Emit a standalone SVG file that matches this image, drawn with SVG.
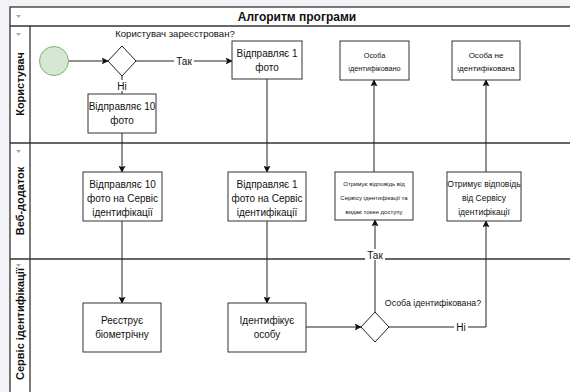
<svg xmlns="http://www.w3.org/2000/svg" width="570" height="392" viewBox="0 0 570 392">
<style>
.lane{fill:none;stroke:#333;stroke-width:1.3}
.box rect{fill:#fff;stroke:#333;stroke-width:1}
.t{font-family:"Liberation Sans",Arial,sans-serif;fill:#111;text-anchor:middle}
.b{font-weight:bold;font-size:12px}
.lb{font-weight:bold;font-size:11px}
.s11{font-size:10px}
.s8{font-size:8px}
.s6{font-size:6px}
.c{fill:none;stroke:#222;stroke-width:1}
.lbl{fill:#fff}
.tri{fill:#aaa}
</style>
<defs>
<marker id="a" viewBox="0 0 10 10" refX="9" refY="5" markerWidth="7" markerHeight="7" orient="auto" markerUnits="userSpaceOnUse">
<path d="M0,0 L10,5 L0,10 L2,5 Z" fill="#111"/>
</marker>
</defs>
<rect x="0" y="0" width="570" height="392" fill="#fff"/>
<rect x="0" y="0" width="10" height="392" fill="#f1f3f7"/>
<rect x="0" y="0" width="570" height="7" fill="#f1f3f7"/>
<g id="pool">
<rect x="10" y="7" width="570" height="400" fill="#fff" stroke="#333" stroke-width="1.3"/>
<line class="lane" x1="10" y1="26" x2="570" y2="26"/>
<line class="lane" x1="30" y1="26" x2="30" y2="392"/>
<line class="lane" x1="10" y1="143" x2="570" y2="143"/>
<line class="lane" x1="10" y1="259" x2="570" y2="259"/>
<text class="t b" x="297" y="21">Алгоритм програми</text>
<path class="tri" d="M16,15 L21,15 L18.5,18 Z"/>
<path class="tri" d="M16,33 L21,33 L18.5,36 Z"/>
<path class="tri" d="M16,150 L21,150 L18.5,153 Z"/>
<path class="tri" d="M16,264 L21,264 L18.5,267 Z"/>
<text class="t lb" transform="translate(24,84) rotate(-90)">Користувач</text>
<text class="t lb" transform="translate(24,201) rotate(-90)">Веб-додаток</text>
<text class="t lb" transform="translate(24,324) rotate(-90)">Сервіс ідентифікації</text>
</g>
<g id="connectors">
<line class="c" x1="69" y1="61" x2="108" y2="61" marker-end="url(#a)"/>
<line class="c" x1="136" y1="61" x2="232" y2="61" marker-end="url(#a)"/>
<rect class="lbl" x="174" y="55" width="20" height="12"/>
<text class="t s11" x="184" y="65">Так</text>
<line class="c" x1="122" y1="76" x2="122" y2="94"/>
<rect class="lbl" x="115" y="80" width="14" height="11"/>
<text class="t s11" x="122" y="90">Ні</text>
<line class="c" x1="122" y1="133" x2="122" y2="172" marker-end="url(#a)"/>
<line class="c" x1="267" y1="79" x2="267" y2="172" marker-end="url(#a)"/>
<line class="c" x1="122" y1="221" x2="122" y2="303" marker-end="url(#a)"/>
<line class="c" x1="267" y1="221" x2="267" y2="303" marker-end="url(#a)"/>
<line class="c" x1="306" y1="327" x2="361" y2="327" marker-end="url(#a)"/>
<line class="c" x1="375" y1="312" x2="375" y2="220" marker-end="url(#a)"/>
<rect class="lbl" x="365" y="249" width="20" height="11"/>
<text class="t s11" x="375" y="259">Так</text>
<polyline class="c" points="389,327 486,327 486,221" marker-end="url(#a)"/>
<rect class="lbl" x="454" y="321" width="14" height="12"/>
<text class="t s11" x="461" y="331">Ні</text>
<line class="c" x1="374" y1="172" x2="374" y2="80" marker-end="url(#a)"/>
<line class="c" x1="486" y1="172" x2="486" y2="80" marker-end="url(#a)"/>
</g>
<g id="start">
<circle cx="54" cy="61" r="14.5" fill="#d5e8d4" stroke="#82b366" stroke-width="1"/>
</g>
<g id="gw1">
<path d="M122,46 L136,61 L122,76 L108,61 Z" fill="#fff" stroke="#222" stroke-width="1"/>
<text class="t" style="font-size:9.6px" x="175" y="37">Користувач зареєстрован?</text>
</g>
<g id="n1" class="box">
<rect x="232" y="41" width="70" height="38"/>
<text class="t s11" x="267" y="57">Відправляє 1</text>
<text class="t s11" x="267" y="71">фото</text>
</g>
<g id="n2" class="box">
<rect x="88" y="94" width="68" height="39"/>
<text class="t s11" x="122" y="110">Відправляє 10</text>
<text class="t s11" x="122" y="124">фото</text>
</g>
<g id="n3" class="box">
<rect x="340" y="41" width="69" height="39"/>
<text class="t" style="font-size:7.3px" x="374.5" y="58">Особа</text>
<text class="t" style="font-size:7.3px" x="374.5" y="71">ідентифіковано</text>
</g>
<g id="n4" class="box">
<rect x="452" y="41" width="68" height="39"/>
<text class="t s8" x="486" y="58">Особа не</text>
<text class="t s8" x="486" y="71">ідентифікована</text>
</g>
<g id="n5" class="box">
<rect x="83" y="172" width="79" height="49"/>
<text class="t s11" x="122.5" y="188">Відправляє 10</text>
<text class="t s11" x="122.5" y="202">фото на Сервіс</text>
<text class="t s11" x="122.5" y="216">ідентифікації</text>
</g>
<g id="n6" class="box">
<rect x="228" y="172" width="78" height="49"/>
<text class="t s11" x="267" y="188">Відправляє 1</text>
<text class="t s11" x="267" y="202">фото на Сервіс</text>
<text class="t s11" x="267" y="216">ідентифікації</text>
</g>
<g id="n7" class="box">
<rect x="335" y="172" width="78" height="48"/>
<text class="t s6" x="374" y="185.5">Отримує відповідь від</text>
<text class="t s6" x="374" y="199.5">Сервісу ідентифікації та</text>
<text class="t s6" x="374" y="213.5">видає токен доступу</text>
</g>
<g id="n8" class="box">
<rect x="447" y="172" width="74" height="49"/>
<text class="t" style="font-size:8.5px" x="484" y="187">Отримує відповідь</text>
<text class="t" style="font-size:8.5px" x="484" y="201">від Сервісу</text>
<text class="t" style="font-size:8.5px" x="484" y="215">ідентифікації</text>
</g>
<g id="n9" class="box">
<rect x="83" y="303" width="78" height="49"/>
<text class="t s11" x="122" y="324">Реєструє</text>
<text class="t s11" x="122" y="338">біометрічну</text>
</g>
<g id="n10" class="box">
<rect x="228" y="303" width="78" height="49"/>
<text class="t s11" x="267" y="324">Ідентифікує</text>
<text class="t s11" x="267" y="338">особу</text>
</g>
<g id="gw2">
<path d="M375,312 L389,327 L375,342 L361,327 Z" fill="#fff" stroke="#222" stroke-width="1"/>
<text class="t" style="font-size:8.8px" x="433" y="306">Особа ідентифікована?</text>
</g>
</svg>
